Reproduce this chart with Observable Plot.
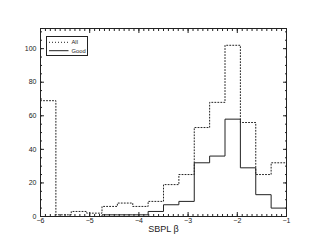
<!DOCTYPE html>
<html>
<head>
<meta charset="utf-8">
<script src="https://cdn.jsdelivr.net/npm/d3@7"></script>
<script src="https://cdn.jsdelivr.net/npm/@observablehq/plot@0.6"></script>
<style>
  html, body { margin: 0; padding: 0; background: #fff; }
  #chart { position: relative; width: 311px; height: 249px; }
</style>
</head>
<body>
<div id="chart"></div>
<script>
// Bin edges of the histogram (SBPL β)
const binEdges = [-6, -5.6875, -5.375, -5.0625, -4.75, -4.4375, -4.125, -3.8125, -3.5,
                  -3.1875, -2.875, -2.5625, -2.25, -1.9375, -1.625, -1.3125, -1];
// Counts per bin
const allCounts  = [69, 1, 3, 2, 6, 8, 6, 9, 19, 25, 53, 68, 102, 56, 25, 32];
const goodCounts = [0, 0, 0, 0, 1, 1, 1, 3, 7, 9, 32, 36, 58, 29, 13, 5];
// Axis ticks
const xMajor = [-6, -5, -4, -3, -2, -1];
const xMinor = d3.range(-60, -9).map(v => v / 10);
const yMajor = [0, 20, 40, 60, 80, 100];
const yMinor = d3.range(0, 115, 5);
const seriesNames = ["All", "Good"];
const xLabel = "SBPL β";

const stepData = (counts) => binEdges.map((e, i) => ({x: e, y: counts[Math.min(i, counts.length - 1)]}));

const ink = "#222";
const chart = Plot.plot({
  width: 311,
  height: 249,
  marginLeft: 40,
  marginRight: 25,
  marginTop: 28,
  marginBottom: 33,
  style: {fontFamily: "'Liberation Sans', Arial, sans-serif", fontSize: "7px", color: ink, background: "#fff"},
  x: {domain: [-6, -1]},
  y: {domain: [0, 112]},
  marks: [
    Plot.line(stepData(allCounts), {x: "x", y: "y", curve: "step-after", stroke: ink, strokeWidth: 1, strokeDasharray: "1,2"}),
    Plot.line(stepData(goodCounts), {x: "x", y: "y", curve: "step-after", stroke: ink, strokeWidth: 1}),
    Plot.frame({stroke: ink}),
    // inward ticks
    Plot.axisX(xMinor, {anchor: "bottom", tickSize: -2, tickFormat: () => "", label: null}),
    Plot.axisX(xMinor, {anchor: "top", tickSize: -2, tickFormat: () => "", label: null}),
    Plot.axisX(xMajor, {anchor: "bottom", tickSize: -4, tickFormat: () => "", label: null}),
    Plot.axisX(xMajor, {anchor: "top", tickSize: -4, tickFormat: () => "", label: null}),
    Plot.axisY(yMinor, {anchor: "left", tickSize: -2, tickFormat: () => "", label: null}),
    Plot.axisY(yMinor, {anchor: "right", tickSize: -2, tickFormat: () => "", label: null}),
    Plot.axisY(yMajor, {anchor: "left", tickSize: -4, tickFormat: () => "", label: null}),
    Plot.axisY(yMajor, {anchor: "right", tickSize: -4, tickFormat: () => "", label: null}),
    // labels
    Plot.axisX(xMajor, {anchor: "bottom", tickSize: 0, tickPadding: 2, label: null, fontSize: 7}),
    Plot.axisY(yMajor, {anchor: "left", tickSize: 0, tickPadding: 4, label: null, fontSize: 7}),
    Plot.text([xLabel], {frameAnchor: "bottom", dy: 15.5, fontSize: 9, fill: ink})
  ]
});
document.getElementById("chart").appendChild(chart);

// Legend box inside the frame
const svg = d3.select(chart);
const lg = svg.append("g")
  .attr("font-family", "'Liberation Sans', Arial, sans-serif")
  .attr("font-size", 5.8)
  .attr("text-anchor", "start")
  .attr("fill", ink);
lg.append("rect").attr("x", 46.5).attr("y", 36.5).attr("width", 41).attr("height", 19)
  .attr("fill", "#fff").attr("stroke", ink).attr("stroke-width", 1);
seriesNames.forEach((name, i) => {
  const yy = 42.3 + i * 8.4;
  lg.append("line").attr("x1", 49).attr("x2", 68.5).attr("y1", yy).attr("y2", yy)
    .attr("stroke", ink).attr("stroke-width", 1)
    .attr("stroke-dasharray", i === 0 ? "1,2" : null);
  lg.append("text").attr("x", 71.5).attr("y", yy + 2).attr("text-anchor", "start").text(name);
});
</script>
</body>
</html>
